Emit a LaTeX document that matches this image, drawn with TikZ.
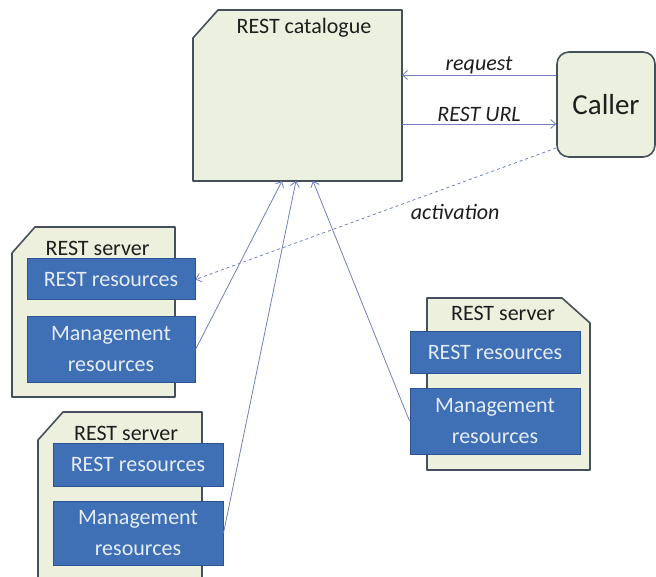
\documentclass[tikz,border=0pt]{standalone}
\usepackage{fontspec}
\setmainfont{Carlito}
\usetikzlibrary{arrows.meta}
\definecolor{catfill}{HTML}{EBF1DE}
\definecolor{srvfill}{HTML}{EEF0DE}
\definecolor{edgecol}{HTML}{45505C}
\definecolor{resfill}{HTML}{3F6FB5}
\definecolor{resedge}{HTML}{2C5490}
\definecolor{restext}{HTML}{E4ECF6}
\definecolor{conncol}{HTML}{7080C0}
\definecolor{textdark}{HTML}{1E1E1E}
\begin{document}
\begin{tikzpicture}[x=1pt,y=-1pt,
  outline/.style={draw=edgecol, line width=1.6pt, fill=#1, line join=round},
  res/.style={draw=resedge, line width=1pt, fill=resfill, text=restext, inner sep=0pt,
    font=\fontsize{22}{31}\selectfont, align=center},
  titlelabel/.style={anchor=base, text=textdark, inner sep=0pt, font=\fontsize{22}{26}\selectfont},
  conn/.style={draw=conncol, line width=0.8pt, -{Straight Barb[length=5pt,width=9pt]}},
  connlabel/.style={text=textdark, inner sep=2pt, font=\fontsize{22}{26}\selectfont\itshape}
]
\useasboundingbox (0,0) rectangle (656,577);
\clip (0,0) rectangle (656,577);
\fill[white] (0,0) rectangle (656,577);

% catalogue
\node[minimum width=209pt, minimum height=171pt, inner sep=0pt, outer sep=0pt] (cat) at (297.5,95.5) {};
\draw[outline=catfill] ([xshift=25pt]cat.north west) -- (cat.north east) -- (cat.south east)
  -- (cat.south west) -- ([yshift=-28pt]cat.north west) -- cycle;
\node[titlelabel] (catlabel) at (304,34) {REST catalogue};

% caller
\node[draw=edgecol, line width=1.6pt, fill=catfill, rounded corners=12pt, minimum width=98pt,
  minimum height=105pt, text=textdark, font=\fontsize{29}{34}\selectfont] (caller) at (606,104.5) {Caller};

% server 1
\draw[outline=srvfill] (35,227) -- (175,227) -- (175,397) -- (12,397) -- (12,253) -- cycle;
\node[titlelabel] (t1) at (97.5,256) {REST server};
\node[res, minimum width=168pt, minimum height=41pt] (r1) at (111,279.5) {REST resources};
\node[res, minimum width=168pt, minimum height=65pt] (m1) at (111,349.5) {Management\\resources};

% server 2
\draw[outline=srvfill] (427,298) -- (562,298) -- (590,323) -- (590,470) -- (427,470) -- cycle;
\node[titlelabel] (t2) at (503,321) {REST server};
\node[res, minimum width=170pt, minimum height=41pt] (r2) at (495,352.5) {REST resources};
\node[res, minimum width=170pt, minimum height=66pt] (m2) at (495,421) {Management\\resources};

% server 3
\draw[outline=srvfill] (63,412) -- (202,412) -- (202,600) -- (38,600) -- (38,440) -- cycle;
\node[titlelabel] (t3) at (126,440) {REST server};
\node[res, minimum width=170pt, minimum height=43pt] (r3) at (138,464.5) {REST resources};
\node[res, minimum width=170pt, minimum height=64pt] (m3) at (138,533) {Management\\resources};

% connectors
\coordinate (rq) at ([yshift=29.5pt]caller.west);
\coordinate (ru) at ([yshift=-19.5pt]caller.west);
\coordinate (ac) at ([yshift=-43.5pt]caller.west);
\draw[conn] (rq) -- (rq -| cat.east) node[midway, above=-1pt, connlabel] {request};
\draw[conn] (ru -| cat.east) -- (ru) node[midway, above, connlabel] {REST URL};
\draw[conn, dashed] (ac) -- (r1.east) node[pos=0.28, yshift=-27pt, connlabel] {activation};
\draw[conn] (m1.east) -- ([xshift=-15.5pt]cat.south);
\draw[conn] (m3.east) -- ([xshift=-1.5pt]cat.south);
\draw[conn] (m2.west) -- ([xshift=15.5pt]cat.south);
\end{tikzpicture}
\end{document}
